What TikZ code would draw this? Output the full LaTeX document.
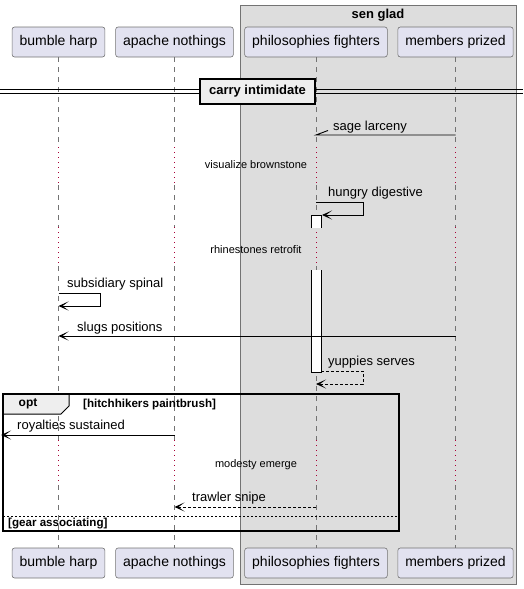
\documentclass[tikz,border=0pt]{standalone}
\usepackage{fontspec}
\setmainfont{Liberation Sans}
\usetikzlibrary{positioning,arrows.meta}
\definecolor{actor-fill}{HTML}{E2E2F0}
\definecolor{box-fill}{HTML}{DDDDDD}
\definecolor{delay-red}{HTML}{A80036}
\definecolor{tab-fill}{HTML}{EEEEEE}
\tikzset{
    actor-box/.style = {draw=black!55, fill=actor-fill, line width=0.6pt, rectangle, rounded corners=2.5pt, minimum height=30pt, inner xsep=7.5pt, font=\fontsize{14}{16}\selectfont},
    life-line/.style = {draw=black!55, line width=0.6pt, dash pattern=on 5pt off 5pt},
    delay-line/.style = {draw=delay-red, line width=0.8pt, dash pattern=on 1pt off 4pt},
    msg/.style = {draw=black, line width=0.9pt, -{Stealth[length=10pt,width=9pt,inset=6pt]}},
    msg-return/.style = {msg, dash pattern=on 3pt off 2pt},
    msg-text/.style = {font=\fontsize{13}{15}\selectfont, inner sep=0pt, anchor=west},
    delay-text/.style = {font=\fontsize{11}{13}\selectfont, inner sep=0pt},
    group-text/.style = {font=\bfseries\fontsize{11.6}{13}\selectfont, inner sep=0pt, anchor=west},
    act-bar/.style = {draw=black, fill=white, line width=0.9pt},
}

\begin{document}
\begin{tikzpicture}[x=1pt, y=-1pt]
\useasboundingbox (0,0) rectangle (523,589);

% box around the last two participants
\filldraw[fill=box-fill, draw=black!55, line width=0.8pt] (240,5) rectangle (516,584);
\node[font=\bfseries\fontsize{13}{15}\selectfont] (box-title) at (378,15) {sen glad};

\node[actor-box] (bh-top) at (58.5,42) {bumble harp};
\node[actor-box] (an-top) at (174.5,42) {apache nothings};
\node[actor-box] (pf-top) at (316,42) {philosophies fighters};
\node[actor-box] (mp-top) at (455.5,42) {members prized};
\node[actor-box] (bh-bot) at (58.5,563) {bumble harp};
\node[actor-box] (an-bot) at (174.5,563) {apache nothings};
\node[actor-box] (pf-bot) at (316,563) {philosophies fighters};
\node[actor-box] (mp-bot) at (455.5,563) {members prized};

% lifelines, dotted where there is a delay
\foreach \n in {bh,an,pf,mp} {
    \foreach \ya/\yb in {57/147,185/227,266/440,485/548}
        \draw[life-line] (\n-top |- 0,\ya) -- (\n-top |- 0,\yb);
    \foreach \ya/\yb in {147/185,227/266,440/485}
        \draw[delay-line] (\n-top |- 0,\ya) -- (\n-top |- 0,\yb);
}

% divider
\draw[line width=0.9pt] (0,89.5) -- (523,89.5) (0,93.5) -- (523,93.5);
\node[draw=black, fill=tab-fill, line width=1.6pt, minimum height=25pt, inner xsep=9pt, font=\bfseries\fontsize{13}{15}\selectfont] (divider) at (257.5,91.5) {carry intimidate};

% activation bar
\filldraw[act-bar] (311,228) -- (311,215) -- (321,215) -- (321,228);
\filldraw[act-bar] (311,270) -- (311,372) -- (321,372) -- (321,270);

\draw[line width=0.9pt] (mp-top |- 0,135) -- (pf-top |- 0,135) -- ++(12,-4.5);
\node[msg-text] (sage) at (333,127) {sage larceny};

\node[delay-text] (delay-a) at (256,165) {visualize brownstone};

\draw[msg] (pf-top |- 0,202) -| (363,215) -- (322,215);
\node[msg-text] (hungry) at (328,193) {hungry digestive};

\node[delay-text] (delay-b) at (256,250) {rhinestones retrofit};

\draw[msg] (bh-top |- 0,293) -| (100,306) -- (bh-top |- 0,306);
\node[msg-text] (subsidiary) at (67,284) {subsidiary spinal};

\draw[msg] (mp-top |- 0,336) -- (bh-top |- 0,336);
\node[msg-text] (slugs) at (77,328) {slugs positions};

\draw[msg-return] (321,371) -| (363,384) -- (pf-top |- 0,384);
\node[msg-text] (yuppies) at (328,362) {yuppies serves};

% opt group
\filldraw[fill=tab-fill, draw=black, line width=1pt] (3,394) -- (69,394) -- (69,406) -- (61,414) -- (3,414) -- cycle;
\draw[line width=1.6pt] (3,394) rectangle (399,531);
\node[font=\bfseries\fontsize{12}{14}\selectfont] (opt-label) at (28,404) {opt};
\node[group-text] (opt-cond) at (83,404) {[hitchhikers paintbrush]};

\coordinate (page-left) at (1,435);
\draw[msg] (an-top |- 0,435) -- (page-left);
\node[msg-text] (royalties) at (17,426) {royalties sustained};

\node[delay-text] (delay-c) at (256,465) {modesty emerge};

\draw[msg-return] (pf-top |- 0,507) -- (an-top |- 0,507);
\node[msg-text] (trawler) at (192,498) {trawler snipe};

\draw[line width=0.8pt, dash pattern=on 2pt off 2pt] (3,516) -- (399,516);
\node[group-text] (else-cond) at (8,524) {[gear associating]};
\end{tikzpicture}
\end{document}
